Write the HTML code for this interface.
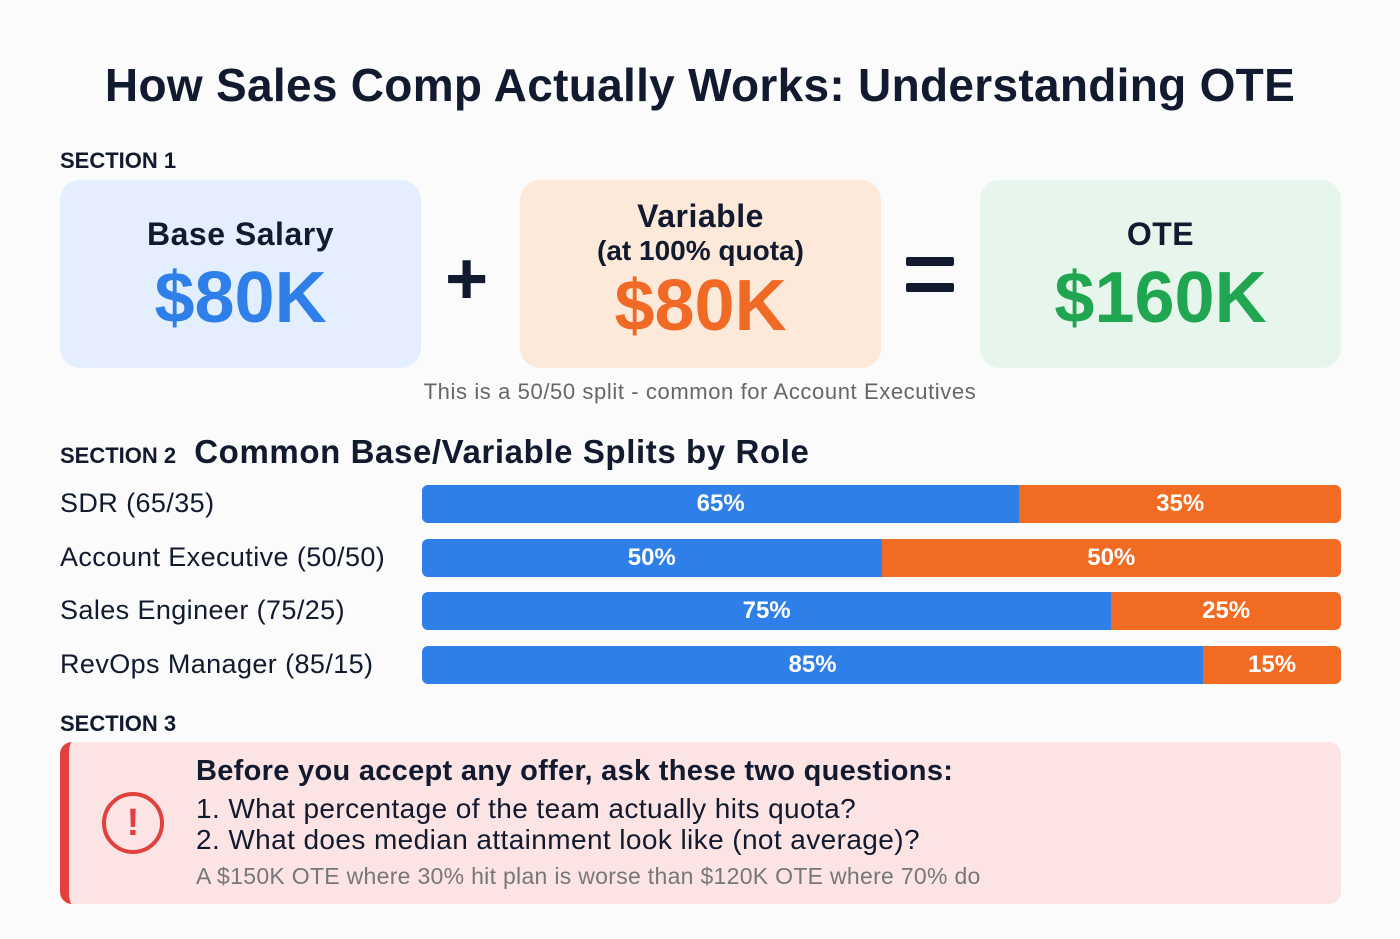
<!DOCTYPE html>
<html><head><meta charset="utf-8"><style>
body{margin:0;width:1400px;height:939px;background:#fbfbfb;font-family:"Liberation Sans",sans-serif;color:#111a2e;position:relative;overflow:hidden}
.a{position:absolute}
.title{left:0;width:1400px;top:58px;text-align:center;font-size:46px;font-weight:bold;letter-spacing:0.3px}
.sec{font-size:22px;font-weight:bold;left:60px}
.card{top:180px;height:188px;width:361px;border-radius:20px;text-align:center}
.ct{font-size:32px;font-weight:bold;letter-spacing:0.5px}
.big{font-size:72px;font-weight:bold;letter-spacing:0px}
.lbl{left:60px;font-size:27px;letter-spacing:0.4px}
.bar{left:422px;width:919px;height:38px;border-radius:6px;overflow:hidden;display:flex}
.bar div{height:38px;line-height:38px;color:#fff;font-weight:bold;font-size:24px;text-align:center}
</style></head><body>
<div class="a title">How Sales Comp Actually Works: Understanding OTE</div>
<div class="a sec" style="top:148px">SECTION 1</div>
<div class="a card" style="left:60px;background:#e3efff">
 <div class="ct" style="margin-top:36px">Base Salary</div><div class="big" style="color:#2f7fe8;margin-top:4px">$80K</div></div>
<div class="a" style="left:445px;top:236px;font-size:74px;font-weight:bold">+</div>
<div class="a card" style="left:520px;background:#fde9d9">
 <div class="ct" style="margin-top:18px">Variable</div><div style="font-size:28px;font-weight:bold">(at 100% quota)</div><div class="big" style="color:#f06a25;margin-top:-2px">$80K</div></div>
<div class="a" style="left:906px;top:257px;width:48px;height:9px;background:#111a2e;border-radius:2px"></div>
<div class="a" style="left:906px;top:283px;width:48px;height:9px;background:#111a2e;border-radius:2px"></div>
<div class="a card" style="left:980px;background:#e6f6ec">
 <div class="ct" style="margin-top:36px">OTE</div><div class="big" style="color:#20a651;margin-top:4px">$160K</div></div>
<div class="a" style="left:0;width:1400px;text-align:center;top:379px;font-size:22px;letter-spacing:0.6px;color:#666">This is a 50/50 split - common for Account Executives</div>
<div class="a sec" style="top:433px">SECTION 2 <span style="font-size:33px;margin-left:12px;letter-spacing:0.6px">Common Base/Variable Splits by Role</span></div>
<div id="bars"></div>
<div class="a sec" style="top:711px">SECTION 3</div>
<div class="a" style="left:60px;top:742px;width:1281px;height:162px;background:#fce4e4;border-radius:12px;border-left:9px solid #e2403d;box-sizing:border-box">
 <div class="a" style="left:33px;top:50px;width:62px;height:62px;border:4px solid #e2403d;border-radius:50%;box-sizing:border-box;text-align:center;color:#e2403d;font-size:38px;font-weight:bold;line-height:54px">!</div>
 <div class="a" style="left:127px;top:13px;font-size:29px;font-weight:bold;letter-spacing:0.3px">Before you accept any offer, ask these two questions:</div>
 <div class="a" style="left:127px;top:51px;font-size:28px;letter-spacing:0.4px">1. What percentage of the team actually hits quota?</div>
 <div class="a" style="left:127px;top:82px;font-size:28px;letter-spacing:0.4px">2. What does median attainment look like (not average)?</div>
 <div class="a" style="left:127px;top:121px;font-size:23px;letter-spacing:0.3px;color:#777">A $150K OTE where 30% hit plan is worse than $120K OTE where 70% do</div>
</div>
<script>
const roles=["SDR (65/35)","Account Executive (50/50)","Sales Engineer (75/25)","RevOps Manager (85/15)"];
const baseShare=[65,50,75,85];
const varShare=[35,50,25,15];
const c=document.getElementById('bars');
roles.forEach((r,i)=>{
 const top=485+i*53.5;
 const l=document.createElement('div');l.className='a lbl';l.style.top=(top+3)+'px';l.textContent=r;
 
 
 c.appendChild(l);
 const b=document.createElement('div');b.className='a bar';b.style.top=top+'px';
 
 
 const tot=baseShare[i]+varShare[i];
 const s1=document.createElement('div');s1.style.width=(baseShare[i]/tot*100)+'%';s1.style.background='#2f7fe8';s1.textContent=baseShare[i]+'%';
 
 
 const s2=document.createElement('div');s2.style.width=(varShare[i]/tot*100)+'%';s2.style.background='#f26b22';s2.textContent=varShare[i]+'%';
 
 
 b.appendChild(s1);b.appendChild(s2);c.appendChild(b);
});
</script>
</body></html>
